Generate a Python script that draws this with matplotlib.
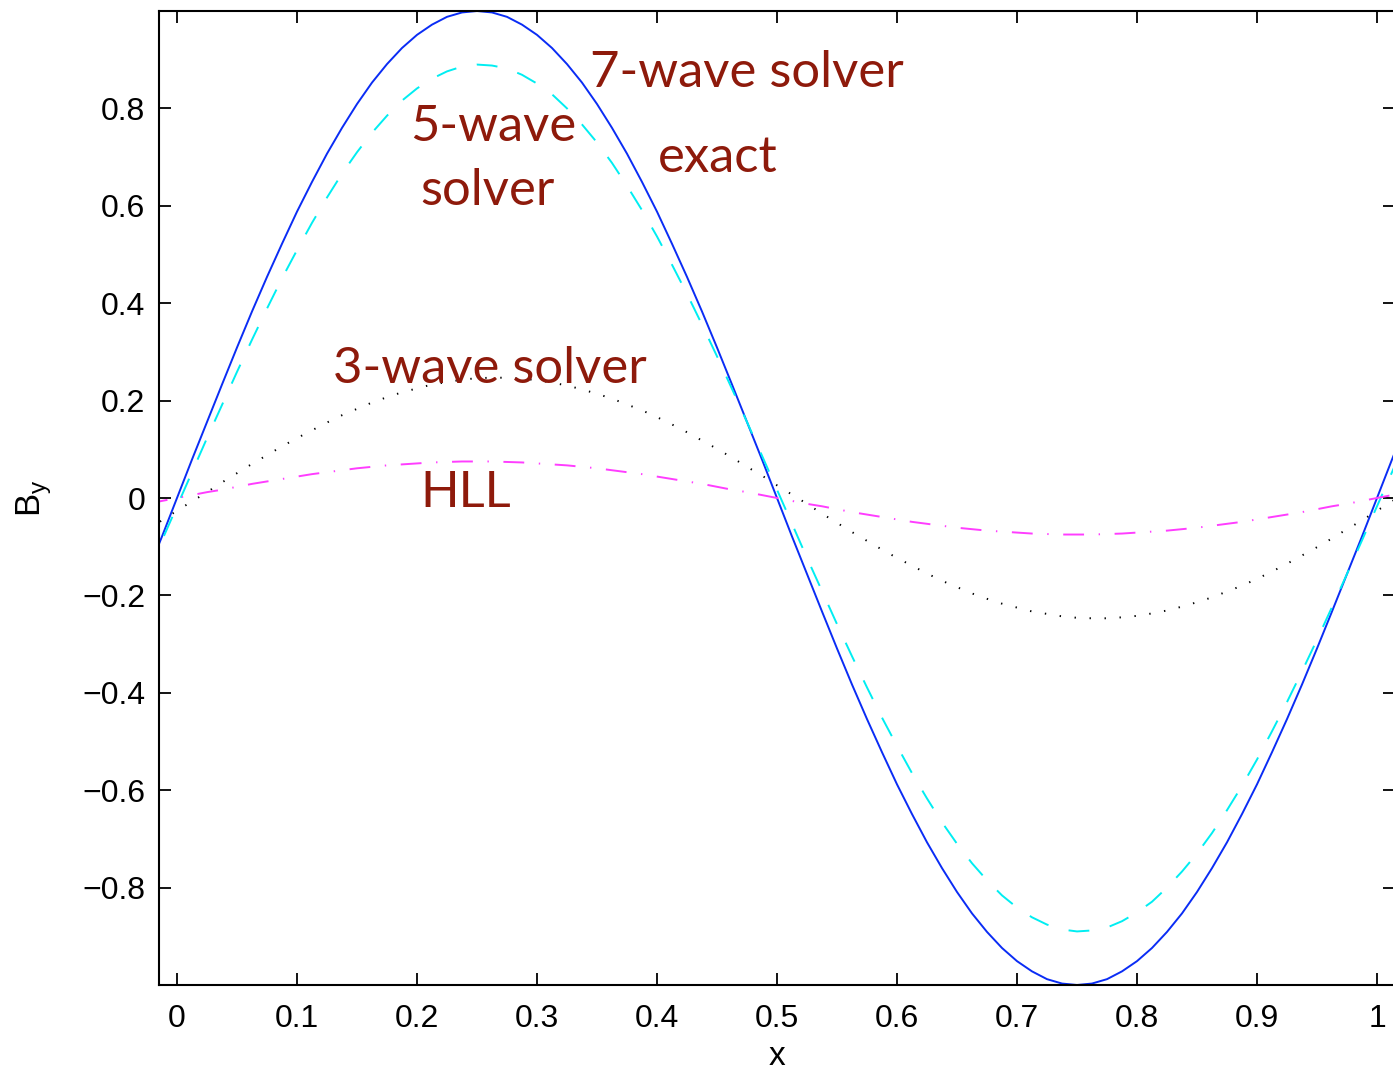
import matplotlib
matplotlib.use("Agg")
import matplotlib.pyplot as plt

# sample positions along x: every 0.0125 from -0.025 to 1.025
x = [round(-0.025 + 0.0125 * i, 4) for i in range(85)]

# exact solution / 7-wave solver
by_exact = [-0.156, -0.079, 0.0, 0.079, 0.156, 0.233, 0.309, 0.383, 0.454, 0.522,
            0.588, 0.649, 0.707, 0.760, 0.809, 0.853, 0.891, 0.924, 0.951, 0.972,
            0.988, 0.997, 1.0, 0.997, 0.988, 0.972, 0.951, 0.924, 0.891, 0.853,
            0.809, 0.760, 0.707, 0.649, 0.588, 0.522, 0.454, 0.383, 0.309, 0.233,
            0.156, 0.079, 0.0, -0.079, -0.156, -0.233, -0.309, -0.383, -0.454, -0.522,
            -0.588, -0.649, -0.707, -0.760, -0.809, -0.853, -0.891, -0.924, -0.951, -0.972,
            -0.988, -0.997, -1.0, -0.997, -0.988, -0.972, -0.951, -0.924, -0.891, -0.853,
            -0.809, -0.760, -0.707, -0.649, -0.588, -0.522, -0.454, -0.383, -0.309, -0.233,
            -0.156, -0.079, 0.0, 0.079, 0.156]

# 5-wave solver
by_5wave = [-0.156, -0.087, -0.017, 0.053, 0.123, 0.191, 0.259, 0.325, 0.389, 0.451,
            0.509, 0.565, 0.617, 0.666, 0.710, 0.750, 0.785, 0.816, 0.841, 0.861,
            0.876, 0.886, 0.890, 0.888, 0.882, 0.869, 0.851, 0.829, 0.800, 0.767,
            0.730, 0.688, 0.641, 0.591, 0.537, 0.479, 0.419, 0.356, 0.291, 0.224,
            0.156, 0.087, 0.017, -0.053, -0.123, -0.191, -0.259, -0.325, -0.389, -0.451,
            -0.509, -0.565, -0.617, -0.666, -0.710, -0.750, -0.785, -0.816, -0.841, -0.861,
            -0.876, -0.886, -0.890, -0.888, -0.882, -0.869, -0.851, -0.829, -0.800, -0.767,
            -0.730, -0.688, -0.641, -0.591, -0.537, -0.479, -0.419, -0.356, -0.291, -0.224,
            -0.156, -0.087, -0.017, 0.053, 0.123]

# 3-wave solver
by_3wave = [-0.064, -0.046, -0.026, -0.007, 0.012, 0.032, 0.051, 0.070, 0.088, 0.106,
            0.123, 0.139, 0.155, 0.170, 0.183, 0.196, 0.207, 0.217, 0.225, 0.233,
            0.238, 0.243, 0.246, 0.247, 0.247, 0.245, 0.242, 0.237, 0.231, 0.223,
            0.214, 0.204, 0.192, 0.180, 0.166, 0.151, 0.135, 0.118, 0.101, 0.083,
            0.064, 0.046, 0.026, 0.007, -0.012, -0.032, -0.051, -0.070, -0.088, -0.106,
            -0.123, -0.139, -0.155, -0.170, -0.183, -0.196, -0.207, -0.217, -0.225, -0.233,
            -0.238, -0.243, -0.246, -0.247, -0.247, -0.245, -0.242, -0.237, -0.231, -0.223,
            -0.214, -0.204, -0.192, -0.180, -0.166, -0.151, -0.135, -0.118, -0.101, -0.083,
            -0.064, -0.046, -0.026, -0.007, 0.012]

# HLL
by_hll = [-0.012, -0.006, 0.0, 0.006, 0.012, 0.017, 0.023, 0.029, 0.034, 0.039,
          0.044, 0.049, 0.053, 0.057, 0.061, 0.064, 0.067, 0.069, 0.071, 0.073,
          0.074, 0.075, 0.075, 0.075, 0.074, 0.073, 0.071, 0.069, 0.067, 0.064,
          0.061, 0.057, 0.053, 0.049, 0.044, 0.039, 0.034, 0.029, 0.023, 0.017,
          0.012, 0.006, 0.0, -0.006, -0.012, -0.017, -0.023, -0.029, -0.034, -0.039,
          -0.044, -0.049, -0.053, -0.057, -0.061, -0.064, -0.067, -0.069, -0.071, -0.073,
          -0.074, -0.075, -0.075, -0.075, -0.074, -0.073, -0.071, -0.069, -0.067, -0.064,
          -0.061, -0.057, -0.053, -0.049, -0.044, -0.039, -0.034, -0.029, -0.023, -0.017,
          -0.012, -0.006, 0.0, 0.006, 0.012]

xticks = [0, 0.1, 0.2, 0.3, 0.4, 0.5, 0.6, 0.7, 0.8, 0.9, 1]
xticklabels = ["0", "0.1", "0.2", "0.3", "0.4", "0.5", "0.6", "0.7", "0.8", "0.9", "1"]
yticks = [-0.8, -0.6, -0.4, -0.2, 0, 0.2, 0.4, 0.6, 0.8]
yticklabels = ["\u22120.8", "\u22120.6", "\u22120.4", "\u22120.2", "0", "0.2", "0.4", "0.6", "0.8"]

plt.rcParams['font.family'] = ['Liberation Sans', 'DejaVu Sans']
plt.rcParams['lines.scale_dashes'] = False

fig = plt.figure(figsize=(13.93, 10.75), dpi=100)
ax = fig.add_axes([159 / 1393, 90 / 1075, 1236 / 1393, 974 / 1075])

ax.plot(x, by_exact, color='#0a2cf5', lw=1.4, linestyle='-')
ax.plot(x, by_5wave, color='#00eef2', lw=1.4, linestyle=(0, (15, 15)))
ax.plot(x, by_3wave, color='black', lw=1.4, linestyle=(0, (1, 9.8)))
ax.plot(x, by_hll, color='#ff3dff', lw=1.4, linestyle=(0, (15, 10.5, 1, 10.5)))

ax.set_xlim(-0.015, 1.015)
ax.set_ylim(-1.0, 1.0)
ax.set_xticks(xticks)
ax.set_xticklabels(xticklabels)
ax.set_yticks(yticks)
ax.set_yticklabels(yticklabels)
ax.tick_params(direction='in', length=8.6, width=1.3, top=True, right=True,
               labelsize=23)
ax.tick_params(axis='y', pad=10)
ax.tick_params(axis='x', pad=14)
for s in ax.spines.values():
    s.set_linewidth(1.5)

ax.set_xlabel('x', fontsize=24, labelpad=5)
ax.set_ylabel('B$_\\mathregular{y}$', fontsize=25, labelpad=20)

red = '#8e1a0b'
lab = dict(color=red, fontsize=36.5, family=['Lato', 'DejaVu Sans'], va='baseline', ha='left')
ax.text(0.344, 0.843, '7-wave solver', **lab)
ax.text(0.401, 0.669, 'exact', **lab)
ax.text(0.194, 0.734, '5-wave', **lab)
ax.text(0.2025, 0.601, 'solver', **lab)
ax.text(0.130, 0.236, '3-wave solver', **lab)
ax.text(0.2025, -0.018, 'HLL', **lab)

fig.savefig('out.png', dpi=100)
